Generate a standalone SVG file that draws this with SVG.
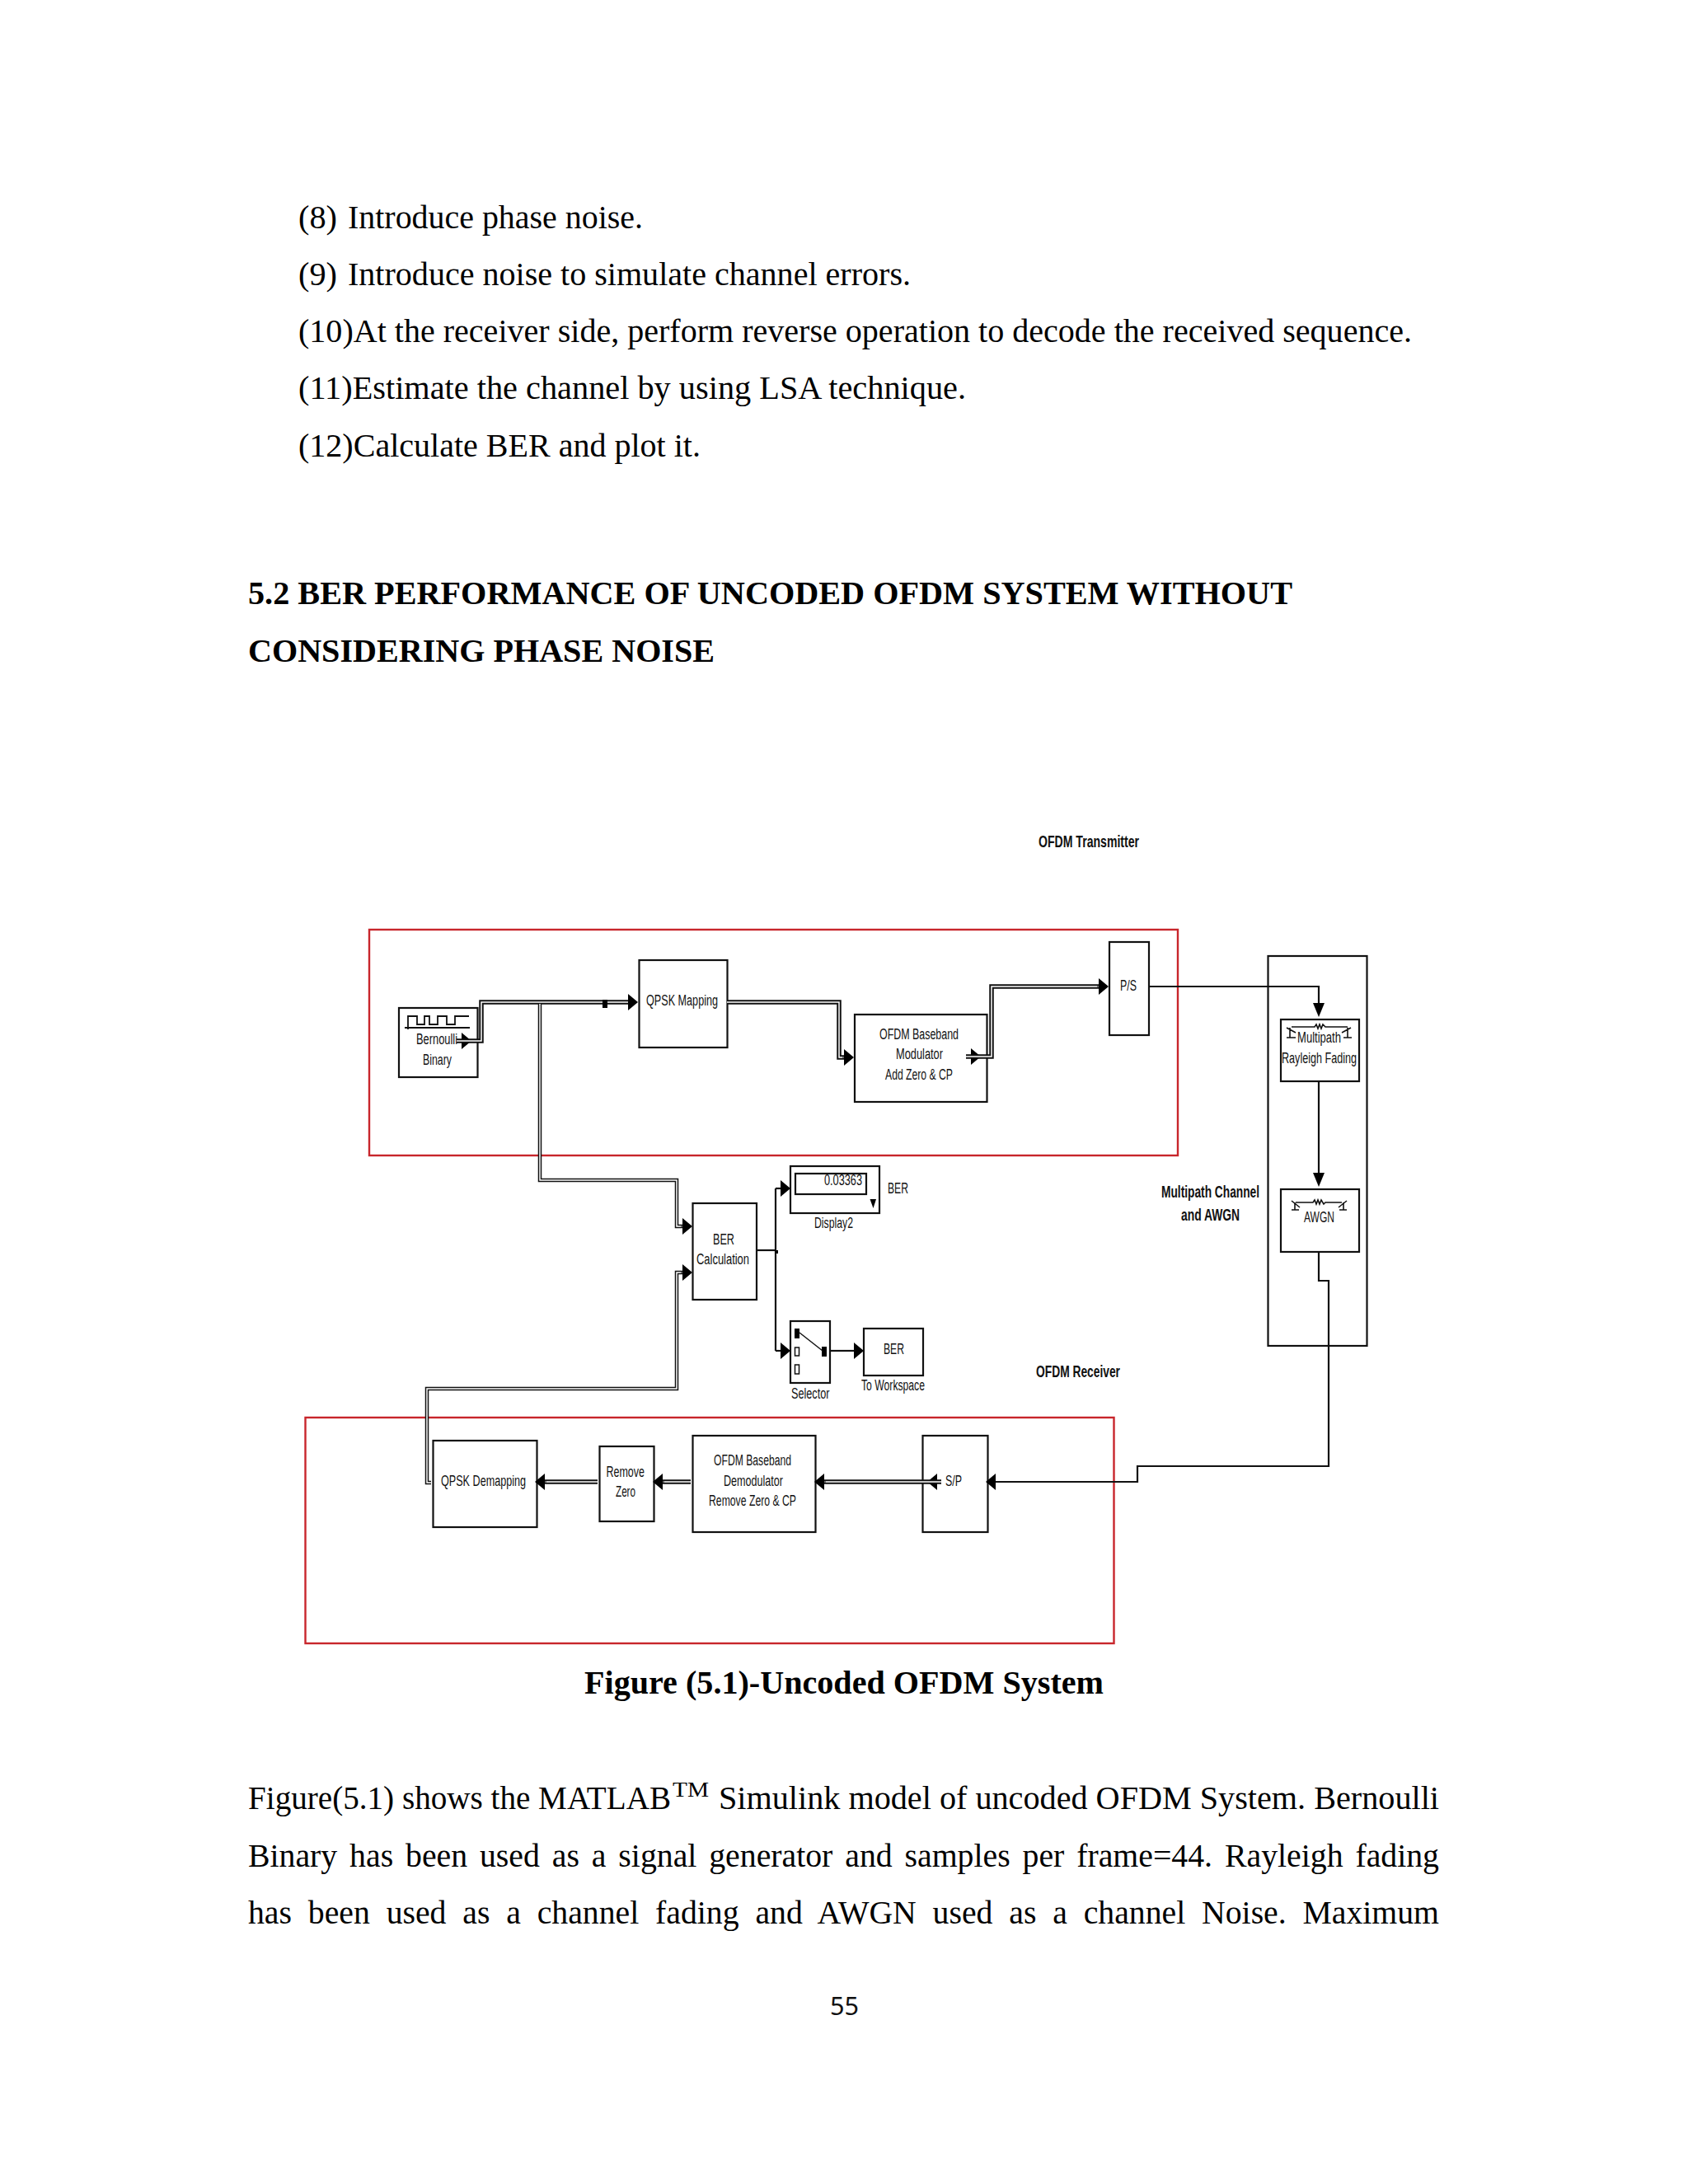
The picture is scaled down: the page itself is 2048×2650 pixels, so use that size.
<svg xmlns="http://www.w3.org/2000/svg" width="2048" height="2650" viewBox="0 0 2048 2650">
<style>
.body{font-family:"Liberation Serif","Times New Roman",serif;font-size:40px;fill:#000}
.bold{font-weight:bold}
.lb{font-family:"Liberation Sans",Arial,sans-serif;font-size:18px;fill:#111}
.ti{font-family:"Liberation Sans",Arial,sans-serif;font-size:20px;font-weight:bold;fill:#111}
.box{fill:#fff;stroke:#111;stroke-width:2.2}
.red{fill:none;stroke:#c8262c;stroke-width:2.4}
.ln{fill:none;stroke:#111;stroke-width:2.200}
.do{fill:none;stroke:#111;stroke-width:5.500}
.di{fill:none;stroke:#fff;stroke-width:1.500}
.ah{marker-end:url(#ah)}
.av{marker-end:url(#av)}
.k{fill:#000}
</style>
<defs>
<marker id="ah" markerUnits="userSpaceOnUse" markerWidth="13" markerHeight="20" refX="0" refY="10" orient="auto" overflow="visible"><path d="M0 0L12 10L0 20z" fill="#000"/></marker>
<marker id="av" markerUnits="userSpaceOnUse" markerWidth="18" markerHeight="14" refX="0" refY="7" orient="auto" overflow="visible"><path d="M0 0L17 7L0 14z" fill="#000"/></marker>
</defs>
<rect width="2048" height="2650" fill="#fff"/>
<g id="page-text">
<text class="body" x="362" y="277" textLength="47" lengthAdjust="spacingAndGlyphs">(8)</text>
<text class="body" x="422" y="277" textLength="358" lengthAdjust="spacingAndGlyphs">Introduce phase noise.</text>
<text class="body" x="362" y="346" textLength="47" lengthAdjust="spacingAndGlyphs">(9)</text>
<text class="body" x="422" y="346" textLength="683" lengthAdjust="spacingAndGlyphs">Introduce noise to simulate channel errors.</text>
<text class="body" x="362" y="415" textLength="1351" lengthAdjust="spacingAndGlyphs">(10)At the receiver side, perform reverse operation to decode the received sequence.</text>
<text class="body" x="362" y="484" textLength="810" lengthAdjust="spacingAndGlyphs">(11)Estimate the channel by using LSA technique.</text>
<text class="body" x="362" y="554" textLength="488" lengthAdjust="spacingAndGlyphs">(12)Calculate BER and plot it.</text>
<text class="body bold" x="301" y="733" textLength="1267" lengthAdjust="spacingAndGlyphs">5.2 BER PERFORMANCE OF UNCODED OFDM SYSTEM WITHOUT</text>
<text class="body bold" x="301" y="803" textLength="566" lengthAdjust="spacingAndGlyphs">CONSIDERING PHASE NOISE</text>
<text class="body bold" x="709" y="2055" textLength="630" lengthAdjust="spacingAndGlyphs">Figure (5.1)-Uncoded OFDM System</text>
<text class="body" x="301" y="2195" textLength="513" lengthAdjust="spacingAndGlyphs">Figure(5.1) shows the MATLAB</text>
<text class="body" x="816" y="2180" style="font-size:26px" textLength="44" lengthAdjust="spacingAndGlyphs">TM</text>
<text class="body" x="872" y="2195" textLength="874" lengthAdjust="spacingAndGlyphs">Simulink model of uncoded OFDM System. Bernoulli</text>
<text class="body" x="301" y="2265" style="word-spacing:5px" textLength="1445" lengthAdjust="spacingAndGlyphs">Binary has been used as a signal generator and samples per frame=44. Rayleigh fading</text>
<text class="body" x="301" y="2334" style="word-spacing:10px" textLength="1445" lengthAdjust="spacingAndGlyphs">has been used as a channel fading and AWGN used as a channel Noise. Maximum</text>
<text x="1007" y="2445" style="font-family:'Noto Sans',sans-serif;font-size:31px;fill:#111" textLength="35" lengthAdjust="spacingAndGlyphs">55</text>
</g>
<g id="titles">
<text class="ti" x="1260" y="1028" textLength="122" lengthAdjust="spacingAndGlyphs">OFDM Transmitter</text>
<text class="ti" x="1409" y="1453" textLength="119" lengthAdjust="spacingAndGlyphs">Multipath Channel</text>
<text class="ti" x="1433" y="1481" textLength="71" lengthAdjust="spacingAndGlyphs">and AWGN</text>
<text class="ti" x="1257" y="1671" textLength="102" lengthAdjust="spacingAndGlyphs">OFDM Receiver</text>
</g>
<g id="frames">
<rect id="tx-frame" class="red" x="448" y="1128" width="981" height="274"/>
<rect id="rx-frame" class="red" x="370.500" y="1720" width="981" height="274"/>
</g>
<g id="channel-frame"><rect class="box" style="fill:none" x="1538.500" y="1160" width="120" height="473"/></g>
<g id="bernoulli">
<rect class="box" x="484" y="1223" width="95.500" height="84"/>
<path class="ln" style="stroke-width:1.800" d="M491 1247H570M495 1232V1249M495 1233H506V1243H515V1233H521V1243H531V1233H542V1243H552V1233H569"/>
<text class="lb" x="505" y="1267" textLength="50" lengthAdjust="spacingAndGlyphs">Bernoulli</text>
<text class="lb" x="513" y="1292" textLength="35" lengthAdjust="spacingAndGlyphs">Binary</text>
</g>
<g id="qpsk-mapping">
<rect class="box" x="775.500" y="1165" width="107" height="106"/>
<text class="lb" x="784" y="1220" textLength="87" lengthAdjust="spacingAndGlyphs">QPSK Mapping</text>
</g>
<g id="ofdm-mod">
<rect class="box" x="1037" y="1231" width="160.500" height="106"/>
<text class="lb" x="1067" y="1261" textLength="96" lengthAdjust="spacingAndGlyphs">OFDM Baseband</text>
<text class="lb" x="1087" y="1285" textLength="57" lengthAdjust="spacingAndGlyphs">Modulator</text>
<text class="lb" x="1074" y="1310" textLength="82" lengthAdjust="spacingAndGlyphs">Add Zero &amp; CP</text>
</g>
<g id="ps">
<rect class="box" x="1346" y="1143" width="48" height="113"/>
<text class="lb" x="1359" y="1202" textLength="20" lengthAdjust="spacingAndGlyphs">P/S</text>
</g>
<g id="rayleigh">
<rect class="box" x="1554" y="1237" width="95" height="75"/>
<path class="ln" style="stroke-width:1.600" d="M1567 1246H1595L1597 1243L1599 1248L1601 1243L1603 1248L1605 1243L1608 1246H1635M1565 1247V1259M1561 1259H1572M1561 1247L1572 1253M1635 1247V1259M1630 1259H1640M1639 1247L1628 1253"/>
<text class="lb" x="1574" y="1265" textLength="53" lengthAdjust="spacingAndGlyphs">Multipath</text>
<text class="lb" x="1555" y="1290" textLength="91" lengthAdjust="spacingAndGlyphs">Rayleigh Fading</text>
</g>
<g id="awgn">
<rect class="box" x="1554" y="1443" width="95" height="76"/>
<path class="ln" style="stroke-width:1.600" d="M1572 1459H1593L1595 1456L1597 1461L1599 1456L1601 1461L1603 1456L1606 1461L1608 1459H1628M1571 1459V1468M1567 1468H1576M1567 1457L1577 1465M1630 1459V1468M1625 1468H1634M1634 1457L1624 1465"/>
<text class="lb" x="1582" y="1483" textLength="37" lengthAdjust="spacingAndGlyphs">AWGN</text>
</g>
<g id="ber-calc">
<rect class="box" x="840.500" y="1460" width="77.500" height="117"/>
<text class="lb" x="865" y="1510" textLength="26" lengthAdjust="spacingAndGlyphs">BER</text>
<text class="lb" x="845" y="1534" textLength="64" lengthAdjust="spacingAndGlyphs">Calculation</text>
</g>
<g id="display2">
<rect class="box" x="959" y="1415" width="108" height="57"/>
<rect class="box" x="965" y="1424" width="86" height="25"/>
<text class="lb" x="1000" y="1438" textLength="46" lengthAdjust="spacingAndGlyphs">0.03363</text>
<path class="k" d="M1055.500 1455H1063L1059.500 1466z"/>
<text class="lb" x="1077" y="1448" textLength="25" lengthAdjust="spacingAndGlyphs">BER</text>
<text class="lb" x="988" y="1490" textLength="47" lengthAdjust="spacingAndGlyphs">Display2</text>
</g>
<g id="selector">
<rect class="box" x="959" y="1603" width="48" height="75"/>
<rect class="k" x="964" y="1612" width="6" height="12"/>
<rect x="964.500" y="1635" width="5" height="10" fill="#fff" stroke="#111" stroke-width="1.500"/>
<rect x="964.500" y="1656" width="5" height="11" fill="#fff" stroke="#111" stroke-width="1.500"/>
<rect class="k" x="997" y="1634" width="6" height="12"/>
<path class="ln" style="stroke-width:1.500" d="M970 1617L998 1639"/>
<text class="lb" x="960" y="1697" textLength="46.500" lengthAdjust="spacingAndGlyphs">Selector</text>
</g>
<g id="to-workspace">
<rect class="box" x="1048" y="1612" width="72" height="57"/>
<text class="lb" x="1072" y="1643" textLength="25" lengthAdjust="spacingAndGlyphs">BER</text>
<text class="lb" x="1045" y="1687" textLength="77" lengthAdjust="spacingAndGlyphs">To Workspace</text>
</g>
<g id="sp">
<rect class="box" x="1119.500" y="1742" width="79" height="117"/>
<text class="lb" x="1147" y="1803" textLength="20" lengthAdjust="spacingAndGlyphs">S/P</text>
</g>
<g id="ofdm-demod">
<rect class="box" x="840.500" y="1742" width="149" height="117"/>
<text class="lb" x="866" y="1778" textLength="94" lengthAdjust="spacingAndGlyphs">OFDM Baseband</text>
<text class="lb" x="878" y="1803" textLength="72" lengthAdjust="spacingAndGlyphs">Demodulator</text>
<text class="lb" x="860" y="1827" textLength="106" lengthAdjust="spacingAndGlyphs">Remove Zero &amp; CP</text>
</g>
<g id="remove-zero">
<rect class="box" x="727.500" y="1755" width="66" height="91"/>
<text class="lb" x="735.500" y="1792" textLength="46.500" lengthAdjust="spacingAndGlyphs">Remove</text>
<text class="lb" x="747" y="1816" textLength="24" lengthAdjust="spacingAndGlyphs">Zero</text>
</g>
<g id="qpsk-demap">
<rect class="box" x="525.500" y="1748" width="126" height="105"/>
<text class="lb" x="535" y="1803" textLength="103" lengthAdjust="spacingAndGlyphs">QPSK Demapping</text>
</g>
<g id="connectors">
<path class="ln ah" d="M555 1263H560"/>
<path class="do" d="M554 1263H584V1216H762"/>
<path class="ln ah" style="stroke-width:1" d="M760 1216H762"/>
<path class="di" d="M554 1263H584V1216H762"/>
<rect class="k" x="731" y="1213" width="6" height="10"/>
<path class="do" style="stroke-width:4.500" d="M655 1218V1432H821V1488H828"/>
<path class="di" d="M655 1218V1432H821V1488H828"/>
<path class="ln ah" style="stroke-width:1" d="M826 1488H828"/>
<path class="do" d="M882 1216H1018V1283H1024"/>
<path class="di" d="M882 1216H1018V1283H1024"/>
<path class="ln ah" style="stroke-width:1" d="M1022 1283H1024"/>
<path class="ln ah" d="M1174 1282H1178"/>
<path class="do" d="M1172 1282H1203V1197H1333"/>
<path class="di" d="M1172 1282H1203V1197H1333"/>
<path class="ln ah" style="stroke-width:1" d="M1331 1197H1333"/>
<path class="ln av" d="M1394 1197H1600V1217"/>
<path class="ln av" d="M1600 1312V1423"/>
<path class="ln ah" d="M1600 1519V1554H1612V1779H1380V1798H1208"/>
<path class="ln ah" d="M1142 1798H1137"/>
<path class="do" d="M1142 1798H1000"/>
<path class="di" d="M1142 1798H1000"/>
<path class="ln ah" style="stroke-width:1" d="M1002 1798H1000"/>
<path class="do" d="M838 1798H804"/>
<path class="di" d="M838 1798H804"/>
<path class="ln ah" style="stroke-width:1" d="M806 1798H804"/>
<path class="do" d="M725 1798H661"/>
<path class="di" d="M725 1798H661"/>
<path class="ln ah" style="stroke-width:1" d="M663 1798H661"/>
<path class="do" style="stroke-width:4.500" d="M523 1799H518V1685H821V1544H828"/>
<path class="di" d="M523 1799H518V1685H821V1544H828"/>
<path class="ln ah" style="stroke-width:1" d="M826 1544H828"/>
<path class="ln" d="M918 1517H941"/>
<path class="ln ah" d="M941 1442H947"/>
<path class="ln" d="M941 1442V1639"/>
<path class="ln ah" d="M941 1639H947"/>
<rect class="k" x="940" y="1517" width="4" height="4"/>
<path class="ln ah" d="M1007 1639H1036"/>
</g>
</svg>
